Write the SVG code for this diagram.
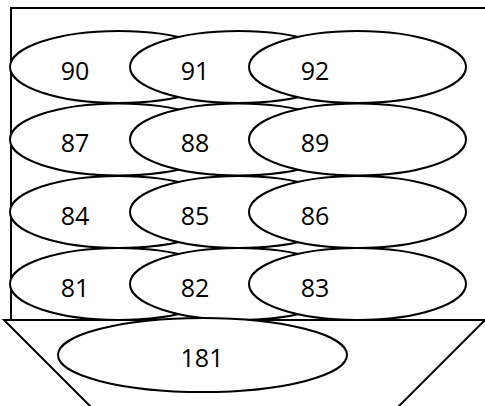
<svg xmlns="http://www.w3.org/2000/svg" width="485" height="406" viewBox="0 0 485 406">
<style>
.s{fill:none;stroke:#000;stroke-width:2}
.e{fill:#fff;stroke:#000;stroke-width:2}
text{font-family:"Open Sans","Noto Sans",sans-serif;font-size:25px;fill:#000;text-anchor:middle}
</style>
<rect width="485" height="406" fill="#fff"/>
<g id="frame">
<polyline class="s" points="490,8 11,8 11,320"/>
<polyline class="s" points="104,420 4,320 485,320 379,426"/>
</g>
<g id="connectors"></g>
<g id="n90"><ellipse class="e" cx="118.5" cy="67" rx="108.5" ry="36"/><text x="75" y="80">90</text></g>
<g id="n91"><ellipse class="e" cx="238.5" cy="67" rx="108.5" ry="36"/><text x="195" y="80">91</text></g>
<g id="n92"><ellipse class="e" cx="357.5" cy="67" rx="108.5" ry="36"/><text x="315" y="80">92</text></g>
<g id="n87"><ellipse class="e" cx="118.5" cy="139.5" rx="108.5" ry="36"/><text x="75" y="152">87</text></g>
<g id="n88"><ellipse class="e" cx="238.5" cy="139.5" rx="108.5" ry="36"/><text x="195" y="152">88</text></g>
<g id="n89"><ellipse class="e" cx="357.5" cy="139.5" rx="108.5" ry="36"/><text x="315" y="152">89</text></g>
<g id="n84"><ellipse class="e" cx="118.5" cy="212" rx="108.5" ry="36"/><text x="75" y="225">84</text></g>
<g id="n85"><ellipse class="e" cx="238.5" cy="212" rx="108.5" ry="36"/><text x="195" y="225">85</text></g>
<g id="n86"><ellipse class="e" cx="357.5" cy="212" rx="108.5" ry="36"/><text x="315" y="225">86</text></g>
<g id="n81"><ellipse class="e" cx="118.5" cy="284" rx="108.5" ry="36"/><text x="75" y="297">81</text></g>
<g id="n82"><ellipse class="e" cx="238.5" cy="284" rx="108.5" ry="36"/><text x="195" y="297">82</text></g>
<g id="n83"><ellipse class="e" cx="357.5" cy="284" rx="108.5" ry="36"/><text x="315" y="297">83</text></g>
<g id="n181"><ellipse class="e" cx="202.5" cy="355" rx="144.5" ry="37"/><text x="202" y="367">181</text></g>
</svg>
